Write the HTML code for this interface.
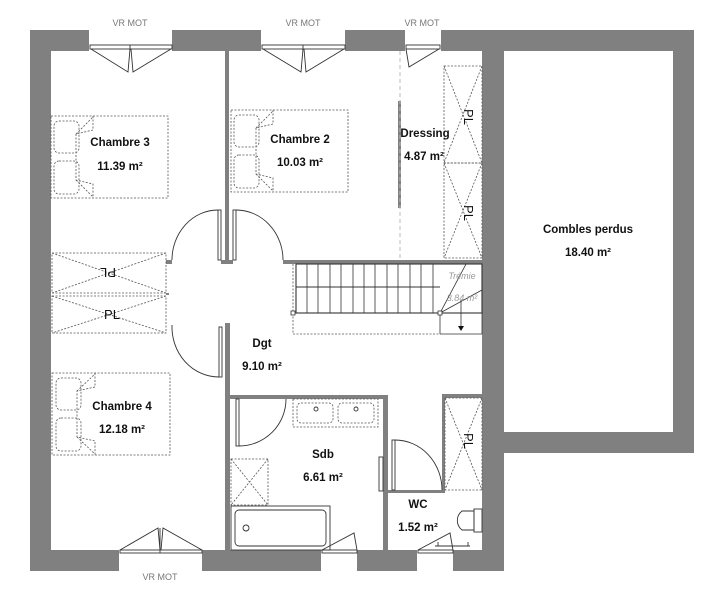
<!DOCTYPE html>
<html><head><meta charset="utf-8"><style>
html,body{margin:0;padding:0;background:#fff;}
svg{display:block;}
text{font-family:"Liberation Sans",Arial,sans-serif;}
.r{font-size:11.5px;font-weight:bold;fill:#111;text-anchor:middle;}
.v{font-size:9px;fill:#777;text-anchor:middle;}
.d{fill:none;stroke:#555;stroke-width:0.8;stroke-dasharray:2 1.5;}
.l{fill:none;stroke:#333;stroke-width:0.9;}
.pl{font-size:13px;fill:#111;text-anchor:middle;}
</style></head><body>
<svg width="724" height="600" viewBox="0 0 724 600">
<rect width="724" height="600" fill="#fff"/>
<g fill="#808080">
<!-- top wall segments -->
<rect x="30" y="30" width="59" height="21"/>
<rect x="172" y="30" width="89" height="21"/>
<rect x="345" y="30" width="60" height="21"/>
<rect x="441" y="30" width="253" height="21"/>
<!-- left wall -->
<rect x="30" y="30" width="21" height="541"/>
<!-- bottom wall -->
<rect x="30" y="550" width="89" height="21"/>
<rect x="202" y="550" width="119" height="21"/>
<rect x="357" y="550" width="60" height="21"/>
<rect x="453" y="550" width="51" height="21"/>
<!-- right house wall -->
<rect x="482" y="30" width="22" height="541"/>
<!-- combles -->
<rect x="673" y="30" width="21" height="423"/>
<rect x="482" y="432" width="212" height="21"/>
<!-- interior walls -->
<rect x="225" y="51" width="4" height="212"/>
<rect x="221" y="260" width="12" height="4"/>
<rect x="283" y="260" width="199" height="4"/>
<rect x="166" y="260" width="6" height="4"/>
<rect x="225" y="323" width="5" height="227"/>
<rect x="230" y="395" width="157" height="4"/>
<rect x="383" y="395" width="5" height="155"/>
<rect x="443" y="394" width="39" height="4"/>
<rect x="442" y="394" width="3" height="99"/>
<rect x="388" y="490" width="57" height="3"/>
<rect x="398" y="101" width="3" height="107"/>
<rect x="166" y="293" width="3" height="2"/>
</g>
<!-- windows top -->
<g class="l">
<rect x="90" y="45" width="82" height="4"/><line x1="130" y1="45" x2="130" y2="50"/>
<polyline points="91,49 128,72 130,49"/><polyline points="171,49 133,72 131,49"/>
<rect x="262" y="45" width="83" height="4"/><line x1="303" y1="45" x2="303" y2="50"/>
<polyline points="263,49 301,72 303,49"/><polyline points="344,49 306,72 304,49"/>
<rect x="406" y="45" width="34" height="4"/>
<polyline points="406,49 409,67 439,49"/>
<!-- windows bottom -->
<rect x="120" y="550" width="82" height="3"/><line x1="160" y1="528" x2="160" y2="553"/>
<polyline points="120,550 158,528 160,550"/><polyline points="202,550 163,528 161,550"/>
<rect x="322" y="550" width="35" height="3"/><polyline points="322,550 354,533 357,550"/>
<rect x="418" y="550" width="35" height="3"/><polyline points="418,550 450,533 453,550"/>
<line x1="435" y1="546" x2="470" y2="546"/><line x1="438" y1="542" x2="438" y2="546"/><line x1="468" y1="542" x2="468" y2="546"/>
<!-- doors -->
<rect x="218" y="210" width="3" height="50"/><path d="M218,210 A46,50 0 0 0 172,260"/>
<rect x="233" y="210" width="3" height="50"/><path d="M236,210 A47,50 0 0 1 283,260"/>
<rect x="219" y="327" width="3" height="50"/><path d="M219,377 A47,50 0 0 1 172,325"/>
<rect x="236" y="399" width="3" height="47"/><path d="M239,446 A47,47 0 0 0 286,399"/>
<rect x="392" y="440" width="3" height="50"/><path d="M395,440 A47,50 0 0 1 442,490"/>
<rect x="379" y="457" width="4" height="34"/>
</g>
<!-- dressing dashed line -->
<line x1="400" y1="51" x2="400" y2="260" stroke="#bbb" stroke-width="1" stroke-dasharray="4 3"/>
<!-- PL closets -->
<g class="d">
<rect x="444" y="66" width="38" height="97"/><path d="M444,66 L482,163 M482,66 L444,163"/>
<rect x="444" y="163" width="38" height="95"/><path d="M444,163 L482,258 M482,163 L444,258"/>
<rect x="52" y="253" width="114" height="40"/><path d="M52,253 L166,293 M166,253 L52,293"/>
<rect x="52" y="296" width="114" height="37"/><path d="M52,296 L166,333 M166,296 L52,333"/>
<rect x="445" y="398" width="37" height="92"/><path d="M445,398 L482,490 M482,398 L445,490"/>
</g>
<text class="pl" transform="translate(464,117) rotate(90)">PL</text>
<text class="pl" transform="translate(464,213) rotate(90)">PL</text>
<text class="pl" transform="translate(464,441) rotate(90)">PL</text>
<text class="pl" transform="translate(108,268) rotate(180)">PL</text>
<text class="pl" x="112" y="319">PL</text>
<!-- beds -->
<g class="d">
<rect x="51" y="116" width="117" height="82"/>
<rect x="54" y="121" width="25" height="32" rx="5"/><rect x="54" y="161" width="25" height="33" rx="5"/>
<polyline points="93,116 93,130 76,134 76,180 93,184 93,198"/><line x1="76" y1="134" x2="93" y2="117"/><line x1="76" y1="180" x2="93" y2="197"/>
<rect x="231" y="110" width="117" height="82"/>
<rect x="234" y="115" width="25" height="32" rx="5"/><rect x="234" y="155" width="25" height="33" rx="5"/>
<polyline points="273,110 273,124 256,128 256,174 273,178 273,192"/><line x1="256" y1="128" x2="273" y2="111"/><line x1="256" y1="174" x2="273" y2="191"/>
<rect x="52" y="373" width="118" height="82"/>
<rect x="56" y="378" width="25" height="32" rx="5"/><rect x="56" y="418" width="25" height="33" rx="5"/>
<polyline points="95,373 95,387 77,391 77,437 95,441 95,455"/><line x1="77" y1="391" x2="95" y2="374"/><line x1="77" y1="437" x2="95" y2="454"/>
<!-- sinks -->
<rect x="293" y="399" width="85" height="28"/>
<rect x="297" y="403" width="36" height="20" rx="4"/><rect x="338" y="403" width="36" height="20" rx="4"/>
<!-- shower -->
<rect x="231" y="459" width="37" height="46"/><path d="M231,459 L268,505 M268,459 L231,505"/>
<!-- stair footprint -->
<polyline points="293,264 293,334 440,334"/>
</g>
<circle cx="316" cy="409" r="2" class="l"/><circle cx="356" cy="409" r="2" class="l"/>
<!-- bath -->
<g class="l">
<rect x="231" y="506" width="99" height="44"/>
<rect x="235" y="510" width="91" height="36" rx="4"/>
<circle cx="246" cy="528" r="3"/>
<!-- toilet -->
<path d="M474,511 L462,511 A12,12 0 0 0 462,530 L474,530 Z"/><rect x="474" y="509" width="8" height="23"/>
<!-- stairs -->
<rect x="296" y="264" width="186" height="49" stroke-width="1.1"/>
<line x1="296" y1="287" x2="440" y2="287"/>
</g>
<g stroke="#333" stroke-width="0.8">
<line x1="307" y1="264" x2="307" y2="313"/><line x1="318" y1="264" x2="318" y2="313"/><line x1="330" y1="264" x2="330" y2="313"/><line x1="341" y1="264" x2="341" y2="313"/><line x1="353" y1="264" x2="353" y2="313"/><line x1="364" y1="264" x2="364" y2="313"/><line x1="375" y1="264" x2="375" y2="313"/><line x1="387" y1="264" x2="387" y2="313"/><line x1="398" y1="264" x2="398" y2="313"/><line x1="410" y1="264" x2="410" y2="313"/><line x1="421" y1="264" x2="421" y2="313"/><line x1="433" y1="264" x2="433" y2="313"/>
<line x1="440" y1="313" x2="440" y2="334"/><line x1="440" y1="334" x2="482" y2="334"/><line x1="482" y1="264" x2="482" y2="334"/>
<line x1="440" y1="313" x2="466" y2="264"/><line x1="440" y1="313" x2="482" y2="290"/><line x1="440" y1="313" x2="482" y2="313"/>
<line x1="461" y1="300" x2="461" y2="328"/>
</g>
<path d="M458,326 L464,326 L461,331 Z" fill="#111"/>
<rect x="438" y="311" width="4" height="4" fill="#fff" stroke="#333" stroke-width="0.8"/>
<rect x="291" y="311" width="4" height="4" fill="#fff" stroke="#333" stroke-width="0.8"/>
<text x="462" y="279" font-size="9" font-style="italic" fill="#999" text-anchor="middle">Trémie</text>
<text x="462" y="301" font-size="9" font-style="italic" fill="#999" text-anchor="middle">3.84 m²</text>
<!-- labels -->
<text class="v" x="130" y="26">VR MOT</text>
<text class="v" x="303" y="26">VR MOT</text>
<text class="v" x="422" y="26">VR MOT</text>
<text class="v" x="160" y="580">VR MOT</text>
<text class="r" x="120" y="146">Chambre 3</text><text class="r" x="120" y="170">11.39 m²</text>
<text class="r" x="300" y="143">Chambre 2</text><text class="r" x="300" y="166">10.03 m²</text>
<text class="r" x="425" y="137">Dressing</text><text class="r" x="424" y="160">4.87 m²</text>
<text class="r" x="588" y="233">Combles perdus</text><text class="r" x="588" y="256">18.40 m²</text>
<text class="r" x="262" y="347">Dgt</text><text class="r" x="262" y="370">9.10 m²</text>
<text class="r" x="122" y="410">Chambre 4</text><text class="r" x="122" y="433">12.18 m²</text>
<text class="r" x="323" y="458">Sdb</text><text class="r" x="323" y="481">6.61 m²</text>
<text class="r" x="418" y="508">WC</text><text class="r" x="418" y="531">1.52 m²</text>
</svg>
</body></html>
